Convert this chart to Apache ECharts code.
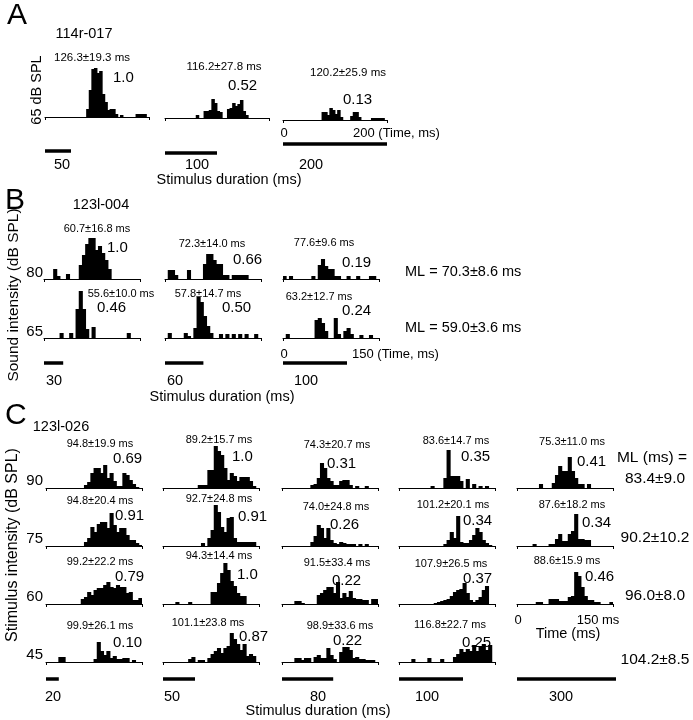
<!DOCTYPE html>
<html><head><meta charset="utf-8">
<script src="https://cdn.jsdelivr.net/npm/echarts@6.0.0/dist/echarts.min.js"></script>
<style>html,body{margin:0;padding:0;background:#fff}#chart{width:693px;height:720px}</style>
</head><body><div id="chart"></div>
<script>
// ---------------- DATA ----------------
// Panel A: 114r-017, 65 dB SPL, 200 ms window, 40 bins
const A_windowMs = 200;
const A_durations = [50, 100, 200];
const A_durationLabels = ['50', '100', '200'];
const A_latency = ['126.3±19.3 ms', '116.2±27.8 ms', '120.2±25.9 ms'];
const A_ratio = ['1.0', '0.52', '0.13'];
const A_d50  = [0,0,0,0,0,0,0,0,0,0,0,0,0,0,0,0, 8,27,48,49,44,46,23,15,7,8,8,3,0,2,0,0,0,0,0,3,3,3,3,0];
const A_d100 = [0,0,0,0,0,0,0,0,0,0,0,0, 3,0,0,7,7,8,19,15,7,6, 0,0,9,10,15,12,14,18,7,3, 0,0,0,0,0,0,0,0];
const A_d200 = [0,0,0,0,0,0,0,0,0,0,0,0,0,0,0, 8,8,5,12,10,6,10,3,0,0, 0,4,8,8,3,0,0,0,0, 2,2,2,2,2,0];
const A_timeTicks = ['0', '200 (Time, ms)'];

// Panel B: 123l-004, 150 ms window, 30 bins
const B_windowMs = 150;
const B_durations = [30, 60, 100];
const B_durationLabels = ['30', '60', '100'];
const B_levels = ['80', '65'];
const B_latency80 = ['60.7±16.8 ms', '72.3±14.0 ms', '77.6±9.6 ms'];
const B_latency65 = ['55.6±10.0 ms', '57.8±14.7 ms', '63.2±12.7 ms'];
const B_ratio80 = ['1.0', '0.66', '0.19'];
const B_ratio65 = ['0.46', '0.50', '0.24'];
const B_ML = ['ML = 70.3±8.6 ms', 'ML = 59.0±3.6 ms'];
const B_80_d30  = [0,0,0,10,3,0,0,5,0,0, 0,14,24,35,41,41,29,33,26,19, 10,0,0,0,0,0,0,0,0,0];
const B_80_d60  = [0,9,9,4,0,0,0,9,0,0, 0,0,15,25,25,19,15,15,4,4, 0,4,4,4,4,4,0,0,0,0];
const B_80_d100 = [3,0,3,0,0,0,0,0,0,3, 0,14,20,13,10,10,3,3,0,0, 3,0,0,3,0,0,0,3,3,0];
const B_65_d30  = [0,0,0,0,0,5,0,0,5,0, 29,47,29,9,0,11,0,0,0,0, 0,0,0,0,0,0,5,0,0,0];
const B_65_d60  = [0,5,0,0,0,0,5,2,0,10, 41,36,22,12,5,0,0,4,0,4, 0,4,0,4,0,4,0,0,4,0];
const B_65_d100 = [0,4,0,0,0,0,0,0,0,0, 18,20,15,7,0,0,20,4,0,7, 10,4,0,0,3,0,0,3,0,0];
const B_timeTicks = ['0', '150 (Time, ms)'];

// Panel C: 123l-026, 150 ms window, 30 bins
const C_windowMs = 150;
const C_durations = [20, 50, 80, 100, 300];
const C_durationLabels = ['20', '50', '80', '100', '300'];
const C_levels = ['90', '75', '60', '45'];
const C_latency90 = ['94.8±19.9 ms', '89.2±15.7 ms', '74.3±20.7 ms', '83.6±14.7 ms', '75.3±11.0 ms'];
const C_latency75 = ['94.8±20.4 ms', '92.7±24.8 ms', '74.0±24.8 ms', '101.2±20.1 ms', '87.6±18.2 ms'];
const C_latency60 = ['99.2±22.2 ms', '94.3±14.4 ms', '91.5±33.4 ms', '107.9±26.5 ms', '88.6±15.9 ms'];
const C_latency45 = ['99.9±26.1 ms', '101.1±23.8 ms', '98.9±33.6 ms', '116.8±22.7 ms'];
const C_ratio90 = ['0.69', '1.0', '0.31', '0.35', '0.41'];
const C_ratio75 = ['0.91', '0.91', '0.26', '0.34', '0.34'];
const C_ratio60 = ['0.79', '1.0', '0.22', '0.37', '0.46'];
const C_ratio45 = ['0.10', '0.87', '0.22', '0.25'];
const C_ML = ['83.4±9.0', '90.2±10.2', '96.0±8.0', '104.2±8.5'];
const C_90_d20  = [0,0,0,0,0,0,0,0,0,0,0,0, 3,6,15,20,20,15,23,10,15,7,2,2,15,13,8,4,1,0];
const C_90_d50  = [0,0,0,0,0,0,0,0,0,0, 0,3,3,3,18,18,42,37,33,20, 8,15,12,7,11,11,11,7,2,0];
const C_90_d80  = [0,0,0,0,0,0,0,0,0,3, 4,10,25,20,10,7,3,3,7,8, 8,3,0,2,0,0,2,0,0,0];
const C_90_d100 = [0,0,0,0,0,0,0,0,0,0, 2,0,0,0,10,38,12,12,12,7, 0,9,0,4,0,2,0,2,0,0];
const C_90_d300 = [0,0,0,0,0,0,0,4,0,0, 0,5,13,22,17,17,31,17,10,4, 4,0,4,0,0,0,0,0,0,0];
const C_75_d20  = [0,0,0,0,0,0,0,0,0,0,0,0, 4,8,19,14,22,24,24,18,33,21,14,18,18,11,6,6,3,1];
const C_75_d50  = [0,0,0,0,0,0,0,0,0,0, 0,0,3,0,8,16,41,34,19,14, 28,29,8,4,4,4,4,4,4,0];
const C_75_d80  = [0,0,0,0,0,0,0,0,0,4, 10,21,18,8,18,6,3,2,4,3, 2,2,2,0,2,0,2,0,0,0];
const C_75_d100 = [0,0,0,0,0,0,0,0,0,0, 0,0,0,0,2,6,14,8,30,4, 3,3,6,11,18,14,6,3,1,0];
const C_75_d300 = [0,0,0,0,0,2,0,0,0,0, 2,2,7,12,5,5,12,15,32,7, 7,6,6,0,0,0,0,0,0,0];
const C_60_d20  = [0,0,0,0,0,0,0,0,0,0,0, 5,7,12,9,14,16,16,19,22,17,16,19,17,17,11,12,4,4,6];
const C_60_d50  = [0,0,0,0,2,0,0,0,2,0, 0,0,0,0,0,12,12,21,31,41, 34,23,18,11,8,8,0,0,0,0];
const C_60_d80  = [0,0,0,0,3,3,1,0,0,0, 0,9,11,14,17,17,11,22,6,11, 7,13,6,5,5,4,4,0,5,5];
const C_60_d100 = [0,0,0,0,0,0,0,0,0,0, 0,1,2,3,4,5,8,12,14,15, 21,11,4,2,4,7,14,18,0,0];
const C_60_d300 = [0,0,0,0,0,0,2,2,0,0, 5,5,5,3,3,3,7,8,32,28, 17,8,4,4,2,2,0,0,0,2];
const C_45_d20  = [0,0,0,0,5,5,0,0,0,0, 0,0,0,0,0,3,20,11,7,11, 4,6,3,3,4,4,0,2,0,0];
const C_45_d50  = [0,0,0,0,0,0,0,0,3,5, 0,2,2,0,4,8,11,14,9,14, 16,29,23,18,12,18,6,8,6,0];
const C_45_d80  = [0,0,0,0,4,4,2,4,4,0, 5,7,4,4,14,7,3,0,10,15, 15,12,4,5,3,3,2,2,2,0];
const C_45_d100 = [0,0,0,0,3,0,0,0,0,4, 0,0,0,3,0,0,0,5,8,13, 10,13,11,17,11,15,18,12,17,0];
const C_timeTicks = ['0', '150 ms'];

// ---------------- BUILD ----------------
const FONT = '"Liberation Sans", Arial, Helvetica, sans-serif';
const grids = [], xAxes = [], yAxes = [], series = [], graphics = [];

function addHist(left, baseline, width, height, yMax, data, windowMs) {
  const gi = grids.length;
  grids.push({left: left, top: baseline - height, width: width, height: height, containLabel: false});
  xAxes.push({type: 'category', gridIndex: gi, data: data.map((_, i) => i), show: false, boundaryGap: true});
  const xi = xAxes.length - 1;
  xAxes.push({type: 'value', gridIndex: gi, min: 0, max: windowMs, interval: windowMs, position: 'bottom',
    axisLine: {show: true, onZero: false, lineStyle: {color: '#000', width: 1}},
    axisTick: {show: true, length: 3, lineStyle: {color: '#000', width: 1}},
    axisLabel: {show: false}, splitLine: {show: false}});
  yAxes.push({type: 'value', gridIndex: gi, min: 0, max: yMax, show: false, splitLine: {show: false}});
  // slightly wider than one bin so adjacent bars merge without seams
  const barPx = width / data.length + 0.9;
  series.push({type: 'bar', xAxisIndex: xi, yAxisIndex: yAxes.length - 1, data: data,
    barWidth: barPx, silent: true, animation: false,
    itemStyle: {color: '#000'}});
}
function addScaleBar(left, y, width, windowMs, dur) {
  const gi = grids.length;
  grids.push({left: left, top: y - 4, width: width, height: 8});
  xAxes.push({type: 'value', gridIndex: gi, min: 0, max: windowMs, show: false});
  yAxes.push({type: 'value', gridIndex: gi, min: 0, max: 1, show: false});
  series.push({type: 'line', xAxisIndex: xAxes.length - 1, yAxisIndex: yAxes.length - 1,
    data: [[0, 0.5], [dur, 0.5]], symbol: 'none', clip: true, silent: true, animation: false,
    lineStyle: {color: '#000', width: 3.5, cap: 'butt'}});
}
function txt(text, x, y, size, align, rot) {
  graphics.push({type: 'text', x: x, y: y, rotation: rot || 0, silent: true,
    style: {text: text, font: size + 'px ' + FONT, fill: '#000',
      textAlign: align || 'center', textVerticalAlign: 'middle',
      align: align || 'center', verticalAlign: 'middle'}});
}

// ----- Panel A -----
const A_hists = [A_d50, A_d100, A_d200];
const A_left = [45, 165, 283], A_w = 104, A_base = [117, 118, 120], A_h = 55;
const A_scaleY = [151, 153, 144];
A_hists.forEach((d, i) => {
  addHist(A_left[i], A_base[i], A_w, A_h, A_h, d, A_windowMs);
  addScaleBar(A_left[i], A_scaleY[i], A_w, A_windowMs, A_durations[i]);
});
txt('A', 7, 16, 30, 'left');
txt('114r-017', 84, 34, 14.5);
txt('65 dB SPL', 37, 90, 14.5, 'center', Math.PI / 2);
const A_latPos = [[92, 58], [224, 67], [348, 73]];
const A_ratPos = [[113, 78], [228, 86], [343, 100]];
A_latency.forEach((t, i) => txt(t, A_latPos[i][0], A_latPos[i][1], 11.5));
A_ratio.forEach((t, i) => txt(t, A_ratPos[i][0], A_ratPos[i][1], 15, 'left'));
txt(A_timeTicks[0], 284, 133, 13);
txt(A_timeTicks[1], 353, 133, 13, 'left');
const A_durLabX = [62, 197, 311];
A_durationLabels.forEach((t, i) => txt(t, A_durLabX[i], 165, 14.5));
txt('Stimulus duration (ms)', 229, 180, 14.5);

// ----- Panel B -----
const B_hists = [[B_80_d30, B_80_d60, B_80_d100], [B_65_d30, B_65_d60, B_65_d100]];
const B_left = [44, 165, 283], B_w = 96, B_base = [279, 338], B_h = 50;
B_hists.forEach((row, r) => row.forEach((d, c) => addHist(B_left[c], B_base[r], B_w, B_h, B_h, d, B_windowMs)));
B_durations.forEach((dur, c) => addScaleBar(B_left[c], 363, B_w, B_windowMs, dur));
txt('B', 5, 201, 30, 'left');
txt('123l-004', 101, 205, 14.5);
txt('Sound intensity (dB SPL)', 14, 295, 15.5, 'center', Math.PI / 2);
B_levels.forEach((t, r) => txt(t, 43, B_base[r] - 6, 15, 'right'));
const B_lat80Pos = [[97, 229], [212, 244], [324, 243]];
const B_lat65Pos = [[121, 294], [208, 294], [319, 297]];
const B_rat80Pos = [[107, 248], [233, 260], [342, 263]];
const B_rat65Pos = [[97, 308], [222, 308], [342, 311]];
B_latency80.forEach((t, i) => txt(t, B_lat80Pos[i][0], B_lat80Pos[i][1], 11));
B_latency65.forEach((t, i) => txt(t, B_lat65Pos[i][0], B_lat65Pos[i][1], 11));
B_ratio80.forEach((t, i) => txt(t, B_rat80Pos[i][0], B_rat80Pos[i][1], 15, 'left'));
B_ratio65.forEach((t, i) => txt(t, B_rat65Pos[i][0], B_rat65Pos[i][1], 15, 'left'));
txt(B_timeTicks[0], 284, 354, 13);
txt(B_timeTicks[1], 352, 354, 13, 'left');
const B_durLabX = [54, 175, 306];
B_durationLabels.forEach((t, i) => txt(t, B_durLabX[i], 381, 14.5));
txt('Stimulus duration (ms)', 222, 397, 14.5);
txt(B_ML[0], 405, 272, 14.5, 'left');
txt(B_ML[1], 405, 328, 14.5, 'left');

// ----- Panel C -----
const C_hists = [
  [C_90_d20, C_90_d50, C_90_d80, C_90_d100, C_90_d300],
  [C_75_d20, C_75_d50, C_75_d80, C_75_d100, C_75_d300],
  [C_60_d20, C_60_d50, C_60_d80, C_60_d100, C_60_d300],
  [C_45_d20, C_45_d50, C_45_d80, C_45_d100]
];
const C_left = [46, 163, 282, 399, 517], C_w = 96, C_base = [488, 546, 604, 662], C_h = 45;
C_hists.forEach((row, r) => row.forEach((d, c) => addHist(C_left[c], C_base[r], C_w, C_h, C_h, d, C_windowMs)));
C_durations.forEach((dur, c) => addScaleBar(C_left[c], 679, C_w, C_windowMs, dur));
txt('C', 5, 416, 30, 'left');
txt('123l-026', 61, 427, 14.5);
txt('Stimulus intensity (dB SPL)', 13, 545, 16, 'center', Math.PI / 2);
C_levels.forEach((t, r) => txt(t, 43, C_base[r] - 7, 15, 'right'));
const C_latPos = [
  [[100, 444], [219, 440], [337, 445], [456, 441], [572, 442]],
  [[100, 501], [219, 499], [336, 507], [453, 505], [572, 505]],
  [[100, 562], [219, 556], [337, 563], [451, 564], [567, 561]],
  [[100, 626], [208, 623], [340, 626], [450, 625]]
];
const C_ratPos = [
  [[113, 459], [232, 457], [327, 464], [461, 457], [577, 462]],
  [[115, 516], [238, 517], [330, 525], [463, 521], [582, 523]],
  [[115, 577], [237, 575], [332, 581], [463, 579], [585, 577]],
  [[113, 643], [239, 637], [333, 641], [462, 643]]
];
[C_latency90, C_latency75, C_latency60, C_latency45].forEach((row, r) =>
  row.forEach((t, c) => txt(t, C_latPos[r][c][0], C_latPos[r][c][1], 11)));
[C_ratio90, C_ratio75, C_ratio60, C_ratio45].forEach((row, r) =>
  row.forEach((t, c) => txt(t, C_ratPos[r][c][0], C_ratPos[r][c][1], 15, 'left')));
txt('ML (ms) =', 652, 458, 15.5);
const C_MLy = [479, 538, 596, 660];
C_ML.forEach((t, r) => txt(t, 655, C_MLy[r], 15.5));
txt(C_timeTicks[0], 518, 620, 13);
txt(C_timeTicks[1], 598, 620, 13);
txt('Time (ms)', 568, 634, 14.5);
const C_durLabX = [53, 172, 318, 427, 561];
C_durationLabels.forEach((t, i) => txt(t, C_durLabX[i], 697, 14.5));
txt('Stimulus duration (ms)', 318, 711, 14.5);

const chart = echarts.init(document.getElementById('chart'), null, {renderer: 'canvas', width: 693, height: 720});
chart.setOption({
  backgroundColor: '#fff',
  animation: false,
  grid: grids, xAxis: xAxes, yAxis: yAxes, series: series, graphic: graphics
});
</script></body></html>
